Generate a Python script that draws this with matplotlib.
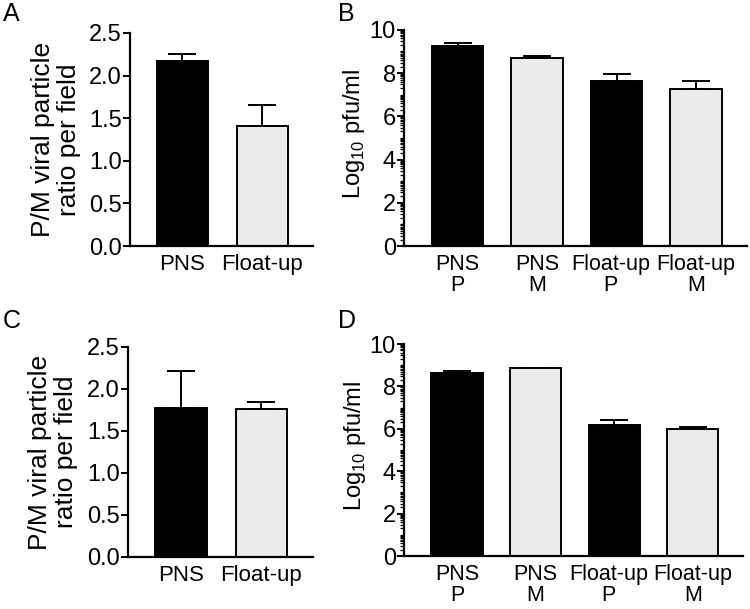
import numpy as np
import matplotlib
matplotlib.use("Agg")
import matplotlib.pyplot as plt
import matplotlib.transforms as mtransforms

plt.rcParams['font.family'] = ['Liberation Sans', 'DejaVu Sans']
plt.rcParams['mathtext.fontset'] = 'custom'
plt.rcParams['mathtext.rm'] = 'Liberation Sans'

# data
ratio_cats = ['PNS', 'Float-up']
ratio_A = [2.17, 1.41]
ratio_A_err = [0.08, 0.24]
ratio_C = [1.77, 1.76]
ratio_C_err = [0.44, 0.09]

pfu_cats = ['PNS\nP', 'PNS\nM', 'Float-up\nP', 'Float-up\nM']
pfu_B = [9.23, 8.71, 7.64, 7.27]
pfu_B_err = [0.15, 0.08, 0.30, 0.36]
pfu_D = [8.65, 8.88, 6.20, 5.97]
pfu_D_err = [0.06, 0.0, 0.24, 0.12]

colors2 = ['black', '#ebebeb']
colors4 = ['black', '#ebebeb', 'black', '#ebebeb']

fig = plt.figure(figsize=(7.5, 6.09), dpi=100)


def style(ax, xsize):
    for s in ['top', 'right']:
        ax.spines[s].set_visible(False)
    for s in ['left', 'bottom']:
        ax.spines[s].set_linewidth(1.6)
    ax.tick_params(axis='x', length=0, labelsize=xsize, pad=6)
    ax.tick_params(axis='y', which='major', length=5, width=1.4, labelsize=17, pad=1)


def ratio_panel(rect, vals, errs, letter, lx, ly):
    ax = fig.add_axes(rect)
    x = np.arange(len(vals))
    ax.bar(x, vals, width=0.64, color=colors2, edgecolor='black', linewidth=1.4, zorder=2)
    ax.errorbar(x, vals, yerr=[np.zeros(len(errs)), errs], fmt='none',
                ecolor='black', elinewidth=1.4, capsize=10, capthick=1.4, zorder=1)
    ax.set_xlim(-0.66, 1.64)
    ax.set_ylim(0, 2.5)
    ax.set_yticks([0, 0.5, 1.0, 1.5, 2.0, 2.5])
    ax.set_yticklabels(['0.0', '0.5', '1.0', '1.5', '2.0', '2.5'])
    ax.set_xticks(x)
    ax.set_xticklabels(ratio_cats)
    ax.set_ylabel('P/M viral particle\nratio per field', fontsize=19, linespacing=1.1)
    ax.yaxis.set_label_coords(-0.27, 0.5)
    style(ax, 16)
    fig.text(lx, ly, letter, fontsize=18, va='top', ha='left')
    return ax


def pfu_panel(rect, vals, errs, letter, lx, ly):
    ax = fig.add_axes(rect)
    x = np.arange(len(vals))
    ax.bar(x, vals, width=0.65, color=colors4, edgecolor='black', linewidth=1.4, zorder=2)
    ax.errorbar(x, vals, yerr=[np.zeros(len(errs)), errs], fmt='none',
                ecolor='black', elinewidth=1.4, capsize=10, capthick=1.4, zorder=1)
    ax.set_xlim(-0.67, 3.64)
    ax.set_ylim(0, 10)
    ax.set_yticks([0, 2, 4, 6, 8, 10])
    minor = [n + np.log10(k) for n in range(10) for k in range(1, 10)]
    ax.set_yticks([m for m in minor if m % 2 != 0], minor=True)
    ax.tick_params(axis='y', which='minor', length=3, width=0.9)
    ax.set_xticks(x)
    ax.set_xticklabels(pfu_cats, linespacing=0.95)
    ax.set_ylabel('Log$_{10}$ pfu/ml', fontsize=17)
    ax.yaxis.set_label_coords(-0.108, 0.52)
    style(ax, 15.5)
    # third label sits slightly left of its bar in the original
    lab = ax.get_xticklabels()[2]
    lab.set_transform(lab.get_transform() +
                      mtransforms.ScaledTranslation(-6 / 100, 0, fig.dpi_scale_trans))
    fig.text(lx, ly, letter, fontsize=18, va='top', ha='left')
    return ax


ratio_panel([0.1733, 0.596, 0.244, 0.350], ratio_A, ratio_A_err, 'A', 0.004, 0.997)
pfu_panel([0.539, 0.596, 0.457, 0.355], pfu_B, pfu_B_err, 'B', 0.451, 0.997)
ratio_panel([0.1707, 0.0854, 0.246, 0.345], ratio_C, ratio_C_err, 'C', 0.004, 0.493)
pfu_panel([0.539, 0.087, 0.452, 0.348], pfu_D, pfu_D_err, 'D', 0.451, 0.493)

fig.savefig('out.png', dpi=100)
